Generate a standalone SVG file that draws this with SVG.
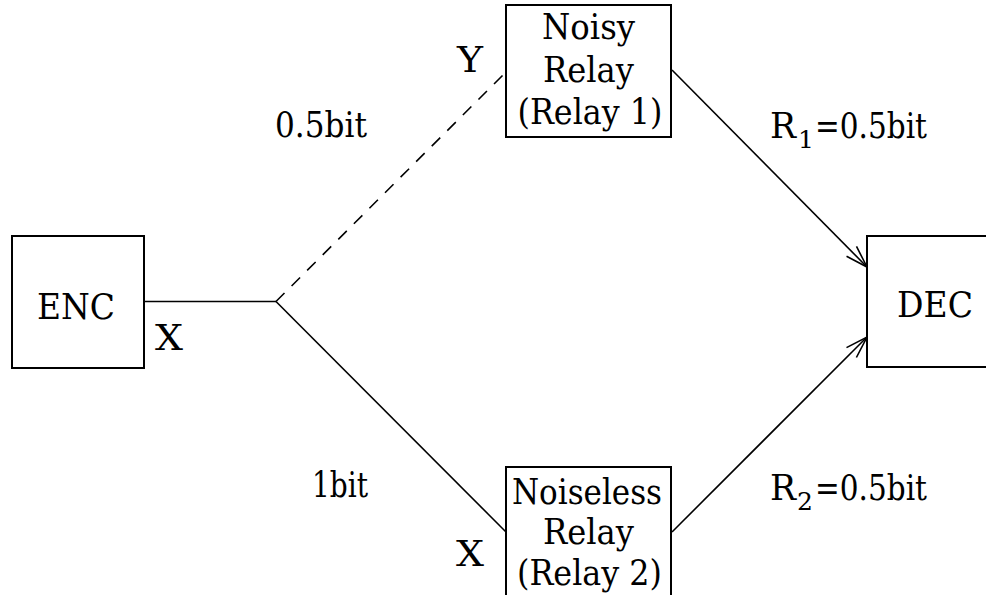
<svg xmlns="http://www.w3.org/2000/svg" width="986" height="595" viewBox="0 0 986 595">
  <style>
    text { font-family: "DejaVu Serif", serif; font-size: 36px; fill: #000; }
    .mid { text-anchor: middle; }
    .sub { font-size: 25px; }
    .box { fill: #fff; stroke: #000; stroke-width: 2; }
    .wire { fill: none; stroke: #000; stroke-width: 1.6; }
    .dash { stroke-dasharray: 12 10; }
  </style>
  <defs>
    <marker id="vee" viewBox="0 0 24 16" refX="23" refY="8" markerWidth="24" markerHeight="16" markerUnits="userSpaceOnUse" orient="auto">
      <path d="M1 1 L23 8 L1 15" fill="none" stroke="#000" stroke-width="1.6"/>
    </marker>
  </defs>

  <!-- connectors -->
  <g id="connectors">
    <path class="wire" d="M144 301.5 H276"/>
    <path class="wire dash" d="M276 301.5 L506 72"/>
    <path class="wire" d="M276 301.5 L506 532"/>
    <path class="wire" d="M672 70 L867 267" marker-end="url(#vee)"/>
    <path class="wire" d="M672 532 L867 337" marker-end="url(#vee)"/>
  </g>

  <!-- encoder -->
  <g id="enc">
    <rect class="box" x="12" y="236" width="132" height="132"/>
    <text class="mid" x="76" y="319" textLength="78" lengthAdjust="spacingAndGlyphs">ENC</text>
  </g>

  <!-- relay 1 -->
  <g id="relay1">
    <rect class="box" x="506" y="5" width="165" height="132"/>
    <text class="mid" x="588.5" y="39" textLength="93" lengthAdjust="spacingAndGlyphs">Noisy</text>
    <text class="mid" x="588.5" y="82" textLength="91" lengthAdjust="spacingAndGlyphs">Relay</text>
    <text class="mid" x="590" y="124" textLength="145" lengthAdjust="spacingAndGlyphs">(Relay 1)</text>
  </g>

  <!-- relay 2 -->
  <g id="relay2">
    <rect class="box" x="506" y="467" width="165" height="140"/>
    <text class="mid" x="587" y="504" textLength="150" lengthAdjust="spacingAndGlyphs">Noiseless</text>
    <text class="mid" x="588.5" y="544" textLength="91" lengthAdjust="spacingAndGlyphs">Relay</text>
    <text class="mid" x="589.5" y="585" textLength="145" lengthAdjust="spacingAndGlyphs">(Relay 2)</text>
  </g>

  <!-- decoder -->
  <g id="dec">
    <rect class="box" x="867" y="236" width="130" height="131"/>
    <text class="mid" x="935" y="317" textLength="76" lengthAdjust="spacingAndGlyphs">DEC</text>
  </g>

  <!-- labels -->
  <g id="labels">
    <text x="155" y="350" textLength="28" lengthAdjust="spacingAndGlyphs">X</text>
    <text x="457" y="72" textLength="26" lengthAdjust="spacingAndGlyphs">Y</text>
    <text x="456" y="566" textLength="28" lengthAdjust="spacingAndGlyphs">X</text>
    <text x="275" y="137" textLength="92" lengthAdjust="spacingAndGlyphs">0.5bit</text>
    <text x="312" y="497" textLength="56" lengthAdjust="spacingAndGlyphs">1bit</text>
    <text x="770" y="138" textLength="26" lengthAdjust="spacingAndGlyphs">R</text>
    <text class="sub" x="798" y="148">1</text>
    <text x="815" y="138" textLength="112" lengthAdjust="spacingAndGlyphs">=0.5bit</text>
    <text x="770" y="500" textLength="26" lengthAdjust="spacingAndGlyphs">R</text>
    <text class="sub" x="797" y="510">2</text>
    <text x="815" y="500" textLength="112" lengthAdjust="spacingAndGlyphs">=0.5bit</text>
  </g>
</svg>
